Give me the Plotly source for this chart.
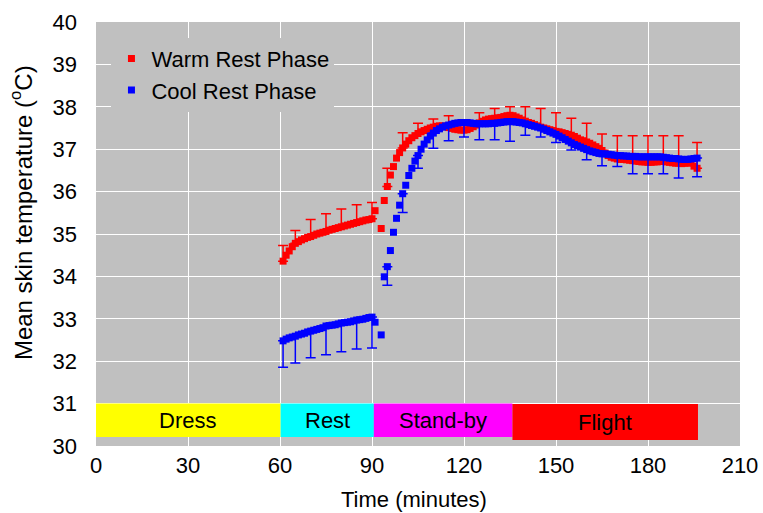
import plotly.graph_objects as go

# ---------------- data ----------------
time_min = list(range(61, 92)) + list(range(93, 197))

warm_temp = [
    34.36, 34.50, 34.60, 34.70, 34.78, 34.82, 34.86, 34.89, 34.92, 34.94,   # 61-70
    34.97, 35.00, 35.02, 35.04, 35.06, 35.09, 35.11, 35.13, 35.15, 35.17,   # 71-80
    35.19, 35.21, 35.23, 35.25, 35.27, 35.29, 35.31, 35.33, 35.34, 35.36,   # 81-90
    35.55,                                                                   # 91
    35.13, 35.79, 36.12, 36.39, 36.59, 36.79, 36.92,                         # 93-99
    37.03, 37.12, 37.20, 37.27, 37.32, 37.37, 37.41, 37.44, 37.47, 37.50,   # 100-109
    37.52, 37.54, 37.55, 37.55, 37.53, 37.51, 37.49, 37.47, 37.46, 37.45,   # 110-119
    37.45, 37.46, 37.49, 37.53, 37.57, 37.62, 37.66, 37.69, 37.71, 37.72,   # 120-129
    37.73, 37.74, 37.75, 37.77, 37.79, 37.80, 37.79, 37.76, 37.73, 37.69,   # 130-139
    37.66, 37.63, 37.61, 37.58, 37.55, 37.52, 37.50, 37.48, 37.46, 37.44,   # 140-149
    37.42, 37.41, 37.39, 37.37, 37.35, 37.33, 37.30, 37.26, 37.22, 37.20,   # 150-159
    37.17, 37.14, 37.10, 37.06, 37.02, 36.97, 36.91, 36.85, 36.81, 36.79,   # 160-169
    36.77, 36.76, 36.76, 36.75, 36.74, 36.73, 36.72, 36.71, 36.70, 36.70,   # 170-179
    36.69, 36.69, 36.70, 36.70, 36.71, 36.71, 36.70, 36.69, 36.68, 36.67,   # 180-189
    36.67, 36.66, 36.67, 36.67, 36.68, 36.60, 36.55,                        # 190-196
]

cool_temp = [
    32.48, 32.52, 32.55, 32.57, 32.59, 32.62, 32.64, 32.66, 32.69, 32.71,   # 61-70
    32.73, 32.75, 32.77, 32.79, 32.83, 32.84, 32.85, 32.86, 32.88, 32.90,   # 71-80
    32.91, 32.92, 32.93, 32.95, 32.97, 32.98, 32.99, 33.01, 33.03, 33.04,   # 81-90
    32.92,                                                                   # 91
    32.62, 33.99, 34.23, 34.61, 35.04, 35.37, 35.68,                         # 93-99
    35.95, 36.15, 36.38, 36.55, 36.72, 36.85, 37.00, 37.12, 37.22, 37.31,   # 100-109
    37.38, 37.44, 37.48, 37.52, 37.55, 37.57, 37.59, 37.61, 37.62, 37.63,   # 110-119
    37.63, 37.63, 37.62, 37.61, 37.60, 37.60, 37.60, 37.60, 37.60, 37.61,   # 120-129
    37.61, 37.62, 37.63, 37.64, 37.65, 37.65, 37.65, 37.64, 37.63, 37.62,   # 130-139
    37.60, 37.58, 37.56, 37.54, 37.52, 37.50, 37.47, 37.44, 37.41, 37.38,   # 140-149
    37.35, 37.31, 37.27, 37.23, 37.19, 37.15, 37.11, 37.08, 37.05, 37.02,   # 150-159
    36.99, 36.96, 36.94, 36.92, 36.90, 36.89, 36.89, 36.88, 36.87, 36.86,   # 160-169
    36.85, 36.85, 36.84, 36.84, 36.83, 36.83, 36.83, 36.82, 36.82, 36.82,   # 170-179
    36.82, 36.82, 36.82, 36.82, 36.82, 36.81, 36.80, 36.79, 36.78, 36.78,   # 180-189
    36.77, 36.76, 36.76, 36.76, 36.77, 36.78, 36.79,                        # 190-196
]

err_time = [61, 65, 70, 75, 80, 85, 90, 95, 100, 105, 110, 115, 120, 125, 130,
            135, 140, 145, 150, 155, 160, 165, 170, 175, 180, 185, 190, 196]
warm_err = [0.37, 0.30, 0.40, 0.42, 0.42, 0.42, 0.38, 0.43, 0.36, 0.24, 0.19, 0.28,
            0.20, 0.24, 0.23, 0.20, 0.34, 0.44, 0.44, 0.40, 0.44, 0.39, 0.55, 0.59,
            0.63, 0.61, 0.65, 0.61]
cool_err = [0.62, 0.63, 0.63, 0.68, 0.68, 0.68, 0.73, 0.44, 0.44, 0.30, 0.36, 0.37,
            0.34, 0.38, 0.39, 0.46, 0.27, 0.21, 0.19, 0.17, 0.24, 0.28, 0.26, 0.41,
            0.40, 0.39, 0.45, 0.44]

phase_names = ["Dress", "Rest", "Stand-by", "Flight"]
phase_start = [-0.3, 60.2, 90.6, 135.8]
phase_end = [60.2, 90.6, 135.8, 196.3]
phase_colors = ["#FFFF00", "#00FFFF", "#FF00FF", "#FF0000"]
phase_bottom = [30.21, 30.21, 30.21, 30.14]
phase_top = [31.0, 31.0, 31.0, 30.99]

x_ticks = [0, 30, 60, 90, 120, 150, 180, 210]
y_ticks = list(range(30, 41))

FONT = "Arial, Liberation Sans, sans-serif"
RED = "#FF0000"
BLUE = "#0000FF"

# ---------------- figure ----------------
fig = go.Figure()

def at(series, t):
    return series[time_min.index(t)]

fig.add_trace(go.Scatter(
    x=time_min, y=warm_temp, mode="markers", name="Warm Rest Phase",
    legendgroup="warm",
    marker=dict(symbol="square", size=7, color=RED, line=dict(width=0)),
))
fig.add_trace(go.Scatter(
    x=err_time, y=[at(warm_temp, t) for t in err_time], mode="markers",
    showlegend=False, hoverinfo="skip", legendgroup="warm",
    marker=dict(size=1, color="rgba(0,0,0,0)"),
    error_y=dict(type="data", symmetric=False, array=warm_err,
                 arrayminus=[0] * len(warm_err), color=RED, thickness=1.5, width=5),
))
fig.add_trace(go.Scatter(
    x=time_min, y=cool_temp, mode="markers", name="Cool Rest Phase",
    legendgroup="cool",
    marker=dict(symbol="square", size=7, color=BLUE, line=dict(width=0)),
))
fig.add_trace(go.Scatter(
    x=err_time, y=[at(cool_temp, t) for t in err_time], mode="markers",
    showlegend=False, hoverinfo="skip", legendgroup="cool",
    marker=dict(size=1, color="rgba(0,0,0,0)"),
    error_y=dict(type="data", symmetric=False, array=[0] * len(cool_err),
                 arrayminus=cool_err, color=BLUE, thickness=1.5, width=5),
))

for name, s, e, c, b, t in zip(phase_names, phase_start, phase_end, phase_colors,
                               phase_bottom, phase_top):
    fig.add_shape(type="rect", xref="x", yref="y", x0=s, x1=e, y0=b, y1=t,
                  fillcolor=c, line=dict(width=0), layer="above")
    fig.add_annotation(x=(s + e) / 2, y=(b + t) / 2, xref="x", yref="y",
                       text=name, showarrow=False,
                       font=dict(family=FONT, size=22, color="black"))

fig.add_annotation(
    xref="paper", yref="paper", x=-0.116, y=0.55, xanchor="center", yanchor="middle",
    text="Mean skin temperature (<sup>o</sup>C)", textangle=-90, showarrow=False,
    font=dict(family=FONT, size=24, color="black"),
)
fig.add_annotation(
    xref="paper", yref="paper", x=0.494, y=-0.127, xanchor="center", yanchor="middle",
    text="Time (minutes)", showarrow=False,
    font=dict(family=FONT, size=22, color="black"),
)

fig.update_layout(
    width=763, height=513,
    margin=dict(l=96, r=23, t=22, b=67, autoexpand=False),
    paper_bgcolor="white",
    plot_bgcolor="#C0C0C0",
    font=dict(family=FONT, size=22, color="black"),
    showlegend=True,
    legend=dict(
        x=0.024, y=0.963, xanchor="left", yanchor="top",
        bgcolor="#C0C0C0", borderwidth=0,
        font=dict(family=FONT, size=22, color="black"),
        itemwidth=30, traceorder="grouped", tracegroupgap=0,
    ),
    xaxis=dict(
        range=[0, 210], tickvals=x_ticks, ticktext=[str(v) for v in x_ticks],
        showgrid=True, gridcolor="white", gridwidth=1,
        zeroline=False, showline=False, ticks="",
        ticklabelstandoff=4,
        tickfont=dict(family=FONT, size=22),
    ),
    yaxis=dict(
        range=[30, 40], tickvals=y_ticks, ticktext=[str(v) for v in y_ticks],
        showgrid=True, gridcolor="white", gridwidth=1,
        zeroline=False, showline=False, ticks="",
        ticklabelstandoff=18,
        tickfont=dict(family=FONT, size=22),
    ),
)

fig.write_html("out.html")
